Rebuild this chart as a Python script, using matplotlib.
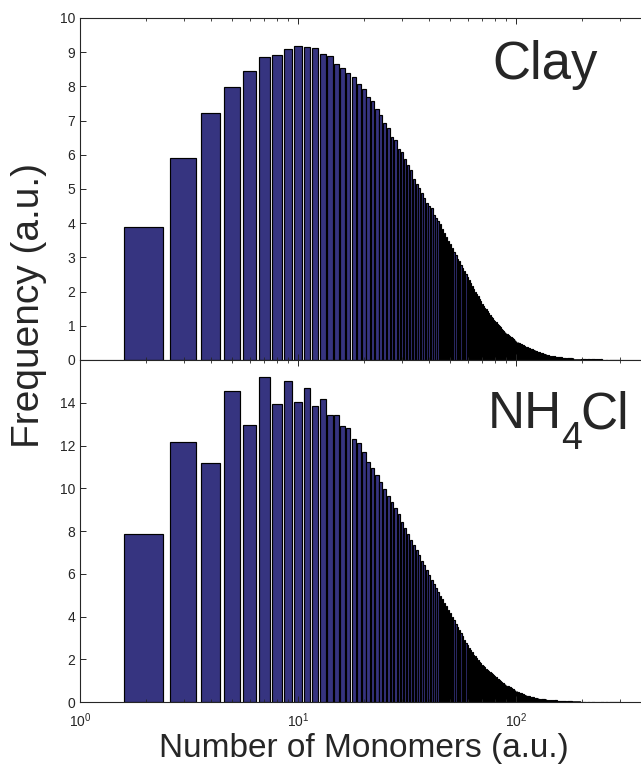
import numpy as np
import matplotlib
matplotlib.use("Agg")
import matplotlib.pyplot as plt
from matplotlib.ticker import LogLocator, NullFormatter
from matplotlib.transforms import offset_copy

plt.rcParams['font.family'] = ['Liberation Sans', 'DejaVu Sans']
plt.rcParams['mathtext.fontset'] = 'custom'
plt.rcParams['mathtext.rm'] = 'Liberation Sans'
plt.rcParams['mathtext.it'] = 'Liberation Sans'
plt.rcParams['mathtext.default'] = 'regular'

# Number of monomers (bar centres)
monomers = np.arange(2, 302)

clay = [
    3.90, 5.92, 7.22, 7.97, 8.44, 8.87, 8.93, 9.10, 9.19, 9.16,
    9.11, 8.95, 8.88, 8.65, 8.53, 8.40, 8.26, 8.06, 7.91, 7.70,
    7.58, 7.33, 7.16, 6.94, 6.77, 6.53, 6.43, 6.16, 6.09, 5.89,
    5.70, 5.56, 5.28, 5.16, 5.02, 4.88, 4.75, 4.60, 4.50, 4.43,
    4.25, 4.15, 4.05, 3.97, 3.83, 3.71, 3.60, 3.48, 3.38, 3.26,
    3.15, 3.06, 2.96, 2.88, 2.78, 2.68, 2.59, 2.50, 2.42, 2.34,
    2.25, 2.16, 2.07, 2.00, 1.93, 1.86, 1.79, 1.72, 1.65, 1.59,
    1.53, 1.48, 1.42, 1.37, 1.32, 1.27, 1.22, 1.18, 1.14, 1.10,
    1.06, 1.02, 0.98, 0.95, 0.91, 0.88, 0.85, 0.82, 0.79, 0.76,
    0.73, 0.71, 0.68, 0.66, 0.64, 0.62, 0.60, 0.58, 0.56, 0.54,
    0.52, 0.51, 0.49, 0.48, 0.46, 0.45, 0.43, 0.42, 0.41, 0.39,
    0.38, 0.37, 0.36, 0.35, 0.34, 0.33, 0.32, 0.31, 0.30, 0.29,
    0.28, 0.27, 0.265, 0.255, 0.245, 0.235, 0.23, 0.22, 0.21, 0.205,
    0.195, 0.19, 0.18, 0.175, 0.165, 0.16, 0.155, 0.15, 0.145, 0.14,
    0.135, 0.13, 0.127, 0.123, 0.12, 0.116, 0.112, 0.108, 0.105, 0.102,
    0.099, 0.096, 0.093, 0.090, 0.088, 0.085, 0.083, 0.080, 0.078, 0.076,
    0.074, 0.072, 0.070, 0.068, 0.066, 0.064, 0.062, 0.061, 0.059, 0.058,
    0.056, 0.055, 0.053, 0.052, 0.051, 0.049, 0.048, 0.047, 0.046, 0.045,
    0.044, 0.043, 0.042, 0.041, 0.040, 0.040, 0.039, 0.038, 0.037, 0.037,
    0.036, 0.035, 0.035, 0.034, 0.033, 0.033, 0.032, 0.032, 0.031, 0.030,
    0.030, 0.029, 0.029, 0.028, 0.028, 0.027, 0.027, 0.026, 0.026, 0.025,
    0.025, 0.025, 0.024, 0.024, 0.023, 0.023, 0.023, 0.022, 0.022, 0.021,
    0.021, 0.021, 0.020, 0.020, 0.020, 0.019, 0.019, 0.019, 0.018, 0.018,
    0.018, 0.017, 0.017, 0.017, 0.016, 0.016, 0.016, 0.016, 0.015, 0.015,
    0.015, 0.015, 0.014, 0.014, 0.014, 0.014, 0.013, 0.013, 0.013, 0.013,
    0.012, 0.012, 0.012, 0.012, 0.012, 0.011, 0.011, 0.011, 0.011, 0.011,
    0.010, 0.010, 0.010, 0.010, 0.010, 0.010, 0.009, 0.009, 0.009, 0.009,
    0.009, 0.009, 0.008, 0.008, 0.008, 0.008, 0.008, 0.008, 0.008, 0.007,
    0.007, 0.007, 0.007, 0.007, 0.007, 0.007, 0.007, 0.007, 0.007, 0.007,
    0.007, 0.007, 0.006, 0.006, 0.006, 0.006, 0.006, 0.006, 0.006, 0.006,
]

nh4cl = [
    7.85, 12.16, 11.19, 14.53, 12.98, 15.23, 13.94, 15.00, 14.03, 14.69,
    13.86, 14.16, 13.45, 13.44, 12.91, 12.80, 12.31, 12.10, 11.69, 11.25,
    10.94, 10.63, 10.28, 9.96, 9.66, 9.35, 9.08, 8.80, 8.40, 8.14,
    7.85, 7.60, 7.35, 7.12, 6.88, 6.62, 6.40, 6.18, 5.95, 5.72,
    5.52, 5.34, 5.14, 4.97, 4.80, 4.62, 4.47, 4.31, 4.16, 4.00,
    3.82, 3.66, 3.50, 3.38, 3.22, 3.07, 2.92, 2.78, 2.65, 2.52,
    2.42, 2.32, 2.22, 2.13, 2.05, 1.97, 1.89, 1.82, 1.75, 1.68,
    1.62, 1.56, 1.50, 1.45, 1.40, 1.35, 1.30, 1.25, 1.20, 1.15,
    1.10, 1.06, 1.02, 0.98, 0.94, 0.90, 0.87, 0.83, 0.80, 0.77,
    0.74, 0.71, 0.68, 0.65, 0.62, 0.59, 0.57, 0.55, 0.52, 0.50,
    0.48, 0.46, 0.44, 0.42, 0.40, 0.38, 0.365, 0.35, 0.335, 0.32,
    0.305, 0.29, 0.28, 0.265, 0.255, 0.245, 0.235, 0.225, 0.215, 0.205,
    0.197, 0.19, 0.183, 0.176, 0.17, 0.164, 0.158, 0.152, 0.147, 0.142,
    0.137, 0.133, 0.129, 0.125, 0.121, 0.118, 0.115, 0.111, 0.108, 0.105,
    0.102, 0.099, 0.096, 0.093, 0.090, 0.087, 0.085, 0.082, 0.080, 0.077,
    0.075, 0.073, 0.071, 0.069, 0.067, 0.065, 0.063, 0.061, 0.059, 0.057,
    0.056, 0.054, 0.053, 0.051, 0.050, 0.048, 0.047, 0.046, 0.045, 0.044,
    0.043, 0.042, 0.041, 0.040, 0.039, 0.038, 0.037, 0.036, 0.035, 0.035,
    0.034, 0.033, 0.032, 0.032, 0.031, 0.030, 0.030, 0.029, 0.028, 0.028,
    0.027, 0.027, 0.026, 0.026, 0.025, 0.025, 0.024, 0.024, 0.023, 0.023,
    0.022, 0.022, 0.021, 0.021, 0.021, 0.020, 0.020, 0.019, 0.019, 0.019,
    0.018, 0.018, 0.018, 0.017, 0.017, 0.017, 0.016, 0.016, 0.016, 0.015,
    0.015, 0.015, 0.015, 0.014, 0.014, 0.014, 0.014, 0.013, 0.013, 0.013,
    0.013, 0.012, 0.012, 0.012, 0.012, 0.011, 0.011, 0.011, 0.011, 0.011,
    0.010, 0.010, 0.010, 0.010, 0.010, 0.010, 0.009, 0.009, 0.009, 0.009,
    0.009, 0.009, 0.009, 0.009, 0.009, 0.009, 0.008, 0.008, 0.008, 0.008,
    0.008, 0.008, 0.008, 0.008, 0.008, 0.008, 0.007, 0.007, 0.007, 0.007,
    0.007, 0.007, 0.007, 0.007, 0.007, 0.007, 0.007, 0.007, 0.007, 0.007,
    0.006, 0.006, 0.006, 0.006, 0.006, 0.006, 0.006, 0.006, 0.006, 0.006,
    0.006, 0.006, 0.006, 0.006, 0.006, 0.006, 0.006, 0.006, 0.006, 0.006,
]

clay_yticks = list(range(0, 11))
nh4cl_yticks = list(range(0, 15, 2))

BAR = '#363480'
AXC = '#262626'

fig = plt.figure(figsize=(6.41, 7.69), dpi=100)
W = 0.885
ax1 = fig.add_axes([0.1248, 0.5319, W, 0.4447])
ax2 = fig.add_axes([0.1248, 0.0871, W, 0.4447])

for ax, vals, ylim, yt in [
        (ax1, clay, 10, clay_yticks),
        (ax2, nh4cl, 16, nh4cl_yticks)]:
    ax.bar(monomers, vals, width=0.8, color=BAR, edgecolor='black',
           linewidth=0.85)
    ax.set_xscale('log')
    ax.set_xlim(1, 400)
    ax.set_ylim(0, ylim)
    ax.set_yticks(yt)
    ax.xaxis.set_major_locator(LogLocator(base=10, numticks=10))
    ax.xaxis.set_minor_locator(LogLocator(base=10, subs=np.arange(2, 10), numticks=10))
    ax.xaxis.set_minor_formatter(NullFormatter())
    ax.tick_params(axis='both', which='major', direction='in', length=4,
                   width=0.7, color=AXC, labelcolor=AXC, labelsize=10)
    ax.tick_params(axis='x', which='major', pad=7)
    ax.tick_params(axis='x', which='both', top=True, bottom=True)
    ax.tick_params(axis='x', which='minor', direction='in', length=2.2,
                   width=0.6, color=AXC)
    ax.tick_params(axis='y', which='both', right=False)
    for s in ax.spines.values():
        s.set_color(AXC)
        s.set_linewidth(0.8)
    ax.spines['right'].set_visible(False)

ax1.tick_params(axis='x', labelbottom=False)
ax1.text(0.7266, 0.8216, 'Clay', transform=ax1.transAxes, fontsize=38,
         color=AXC, ha='left', va='baseline')

# NH4Cl label built from pieces so the large, low subscript matches
fig.canvas.draw()
renderer = fig.canvas.get_renderer()
t1 = ax2.text(0.7196, 0.801, 'NH', transform=ax2.transAxes, fontsize=37,
              color=AXC, ha='left', va='baseline')
w1 = t1.get_window_extent(renderer).width * 72 / fig.dpi
t2 = ax2.text(0.7196, 0.801, '4',
              transform=offset_copy(ax2.transAxes, fig=fig, x=w1 - 1, y=-15, units='points'),
              fontsize=27, color=AXC, ha='left', va='baseline')
w2 = t2.get_window_extent(renderer).width * 72 / fig.dpi
ax2.text(0.7196, 0.801, 'Cl',
         transform=offset_copy(ax2.transAxes, fig=fig, x=w1 + w2 - 2, y=0, units='points'),
         fontsize=37, color=AXC, ha='left', va='baseline')

ax2.set_xlabel('Number of Monomers (a.u.)', fontsize=24, color=AXC, labelpad=2)
fig.text(29 / 641, 1 - 305 / 769, 'Frequency (a.u.)', rotation=90,
         fontsize=28, color=AXC, ha='center', va='center')

fig.savefig('out.png', dpi=100)
